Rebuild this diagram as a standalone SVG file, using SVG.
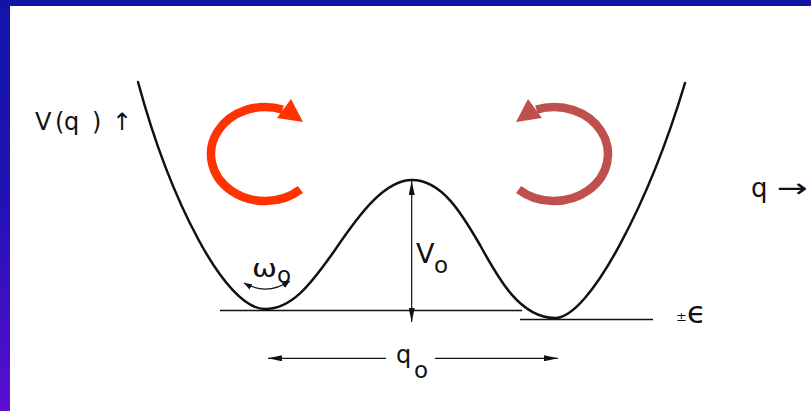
<svg xmlns="http://www.w3.org/2000/svg" width="811" height="411" viewBox="0 0 811 411">
  <defs>
    <linearGradient id="sideGrad" x1="0" y1="0" x2="0" y2="1">
      <stop offset="0" stop-color="#1214a8"/>
      <stop offset="0.5" stop-color="#2212b4"/>
      <stop offset="1" stop-color="#5a0ed2"/>
    </linearGradient>
    <marker id="head" viewBox="0 0 14 6" refX="14" refY="3" markerWidth="14" markerHeight="6" markerUnits="userSpaceOnUse" orient="auto-start-reverse">
      <path d="M0,0 L14,3 L0,6 z" fill="#111"/>
    </marker>
    <marker id="smallHead" viewBox="0 0 8 6" refX="8" refY="3" markerWidth="8" markerHeight="6" markerUnits="userSpaceOnUse" orient="auto-start-reverse">
      <path d="M0,0 L8,3 L0,6 z" fill="#111"/>
    </marker>
  </defs>
  <style>
    .lbl { font-family: "DejaVu Sans", "Liberation Sans", sans-serif; fill: #111; }
    .curve { fill: none; stroke: #111; stroke-width: 2.5; stroke-linecap: round; }
    .base { stroke: #111; stroke-width: 1.5; }
    .dim { stroke: #111; stroke-width: 1.2; fill: none; }
    .rot { fill: none; stroke-width: 8.5; }
  </style>

  <rect x="0" y="0" width="811" height="411" fill="#ffffff"/>
  <rect x="0" y="0" width="811" height="6" fill="#1214a8"/>
  <rect x="0" y="0" width="10" height="411" fill="url(#sideGrad)"/>

  <g id="potential">
    <path class="curve" d="M138,82 C170,200 225,309 265,309 C291,309 309,287 335,250 C360,213 385,180 412,180 C442,180 462,214 480,245 C498,278 520,318 555,318 C590,318 650,200 685,83"/>
    <line class="base" x1="220" y1="310.5" x2="522" y2="310.5"/>
    <line class="base" x1="520" y1="319.5" x2="653" y2="319.5"/>
  </g>

  <g id="rotation-left">
    <path class="rot" stroke="#ff3300" d="M300.4,189.5 A54,47 0 1 1 282.6,109.6"/>
    <polygon points="291,99 277,118 303,122" fill="#ff3300"/>
  </g>
  <g id="rotation-right">
    <path class="rot" stroke="#c0504d" d="M518.6,189.5 A54,47 0 1 0 536.4,109.6"/>
    <polygon points="528,99 542,118 516,122" fill="#c0504d"/>
  </g>

  <g id="connectors">
    <line class="dim" x1="411.7" y1="181" x2="411.7" y2="322" marker-start="url(#head)" marker-end="url(#head)"/>
    <line class="dim" x1="386" y1="358.3" x2="268" y2="358.3" marker-end="url(#head)"/>
    <line class="dim" x1="435" y1="358.3" x2="558" y2="358.3" marker-end="url(#head)"/>
    <path class="dim" d="M244,283 Q267,296 290,281" marker-start="url(#smallHead)" marker-end="url(#smallHead)"/>
  </g>

  <g id="label-Vq">
    <text class="lbl" font-size="24" x="35 55 64 92 112" y="130">V(q)↑</text>
  </g>
  <g id="label-omega">
    <text class="lbl" font-size="25" x="252" y="277" textLength="25" lengthAdjust="spacingAndGlyphs">ω</text>
    <text class="lbl" font-size="23" x="277" y="283">o</text>
  </g>
  <g id="label-V0">
    <text class="lbl" font-size="27" x="416" y="263">V</text>
    <text class="lbl" font-size="23" x="434" y="273">o</text>
  </g>
  <g id="label-q0">
    <text class="lbl" font-size="24" x="396" y="363">q</text>
    <text class="lbl" font-size="23" x="414" y="378">o</text>
  </g>
  <g id="label-q">
    <text class="lbl" font-size="26" x="751" y="197">q</text>
    <text class="lbl" font-size="26" x="777" y="197" textLength="31" lengthAdjust="spacingAndGlyphs">→</text>
  </g>
  <g id="label-eps">
    <text class="lbl" font-size="13" x="676" y="321">±</text>
    <text class="lbl" font-size="31" x="687" y="323">ϵ</text>
  </g>
</svg>
